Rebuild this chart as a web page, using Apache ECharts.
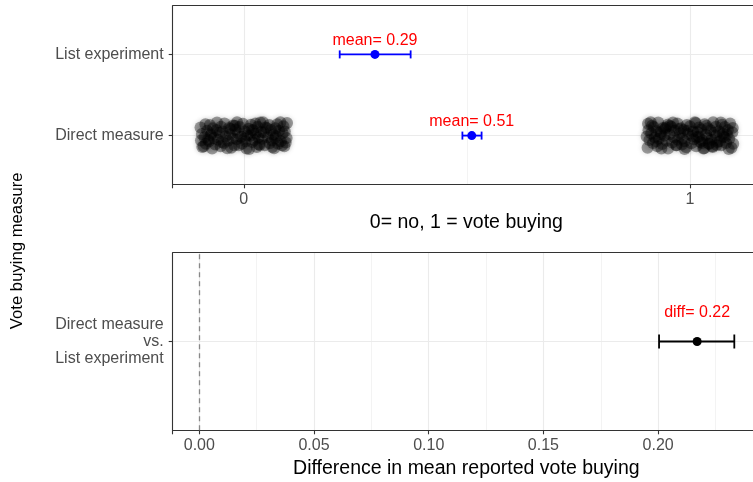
<!DOCTYPE html>
<html><head><meta charset="utf-8">
<script src="https://cdn.jsdelivr.net/npm/echarts@6/dist/echarts.min.js"></script>
<style>html,body{margin:0;padding:0;background:#fff}#c{width:753px;height:482px}</style>
</head><body><div id="c"></div>
<script>
// ---------- data ----------
const measures = ['Direct measure', 'List experiment'];
const meanValues = [0.511, 0.294];
const meanLower = [0.490, 0.215];
const meanUpper = [0.533, 0.374];
const meanLabels = ['mean= 0.51', 'mean= 0.29'];

const diffCategory = 'Direct measure\nvs.\nList experiment';
const diffValue = [0.217];
const diffLower = [0.2004];
const diffUpper = [0.2332];
const diffLabels = ['diff= 0.22'];
const refLineValue = 0;

const topTicks = [0, 1];
const topTickLabels = ['0', '1'];
const bottomTicks = [0, 0.05, 0.10, 0.15, 0.20];
const bottomTickLabels = ['0.00', '0.05', '0.10', '0.15', '0.20'];
const topXLimits = [-0.1593, 1.157];
const bottomXLimits = [-0.0116, 0.2444];

const topTitle = '0= no, 1 = vote buying';
const bottomTitle = 'Difference in mean reported vote buying';
const yTitle = 'Vote buying measure';

// direct-measure answers (0 = no, 1 = yes) with jitter offsets
const responses = [0, 1];
const noJitterX = [
 -0.093,-0.071,-0.052,-0.028,-0.011,0.012,0.029,0.047,0.068,0.091,
 -0.085,-0.064,-0.045,-0.021,-0.004,0.019,0.036,0.058,0.077,0.094,
 -0.096,-0.078,-0.058,-0.035,-0.016,0.004,0.024,0.041,0.063,0.083,
 -0.088,-0.067,-0.041,-0.025,-0.006,0.015,0.033,0.054,0.072,0.096,
 -0.094,-0.074,-0.055,-0.031,-0.013,0.008,0.027,0.045,0.066,0.087,
 -0.082,-0.061,-0.047,-0.019,0.002,0.021,0.039,0.061,0.079,0.092,
 -0.097,-0.069,-0.051,-0.033,-0.009,0.011,0.031,0.049,0.071,0.089,
 -0.086,-0.076,-0.043,-0.024,-0.002,0.016,0.037,0.057,0.075,0.097,
 -0.090,-0.060,-0.037,-0.015,0.006,0.026,0.043,0.064,0.082,-0.030,
 -0.072,-0.050,-0.020,0.001,0.018,0.034,0.052,0.070,0.086,-0.080];
const noJitterY = [
 -0.14,-0.16,-0.13,-0.15,-0.12,-0.165,-0.14,-0.12,-0.155,-0.13,
 -0.10,-0.11,-0.09,-0.12,-0.10,-0.08,-0.115,-0.095,-0.10,-0.085,
 -0.06,-0.07,-0.05,-0.065,-0.045,-0.07,-0.055,-0.04,-0.06,-0.07,
 -0.02,-0.03,-0.01,-0.035,-0.015,0.0,-0.025,-0.02,-0.005,-0.03,
 0.02,0.01,0.035,0.015,0.03,0.005,0.025,0.04,0.01,0.03,
 0.06,0.07,0.05,0.075,0.055,0.065,0.045,0.07,0.06,0.05,
 0.10,0.09,0.11,0.095,0.105,0.085,0.11,0.10,0.09,0.115,
 0.14,0.13,0.15,0.125,0.145,0.135,0.16,0.13,0.14,0.155,
 -0.13,0.16,-0.155,0.165,-0.16,0.15,0.165,-0.14,0.165,0.08,
 0.03,-0.08,0.12,-0.04,0.07,-0.11,0.09,-0.03,-0.12,-0.05];
const yesJitterX = [
 -0.095,-0.073,-0.049,-0.030,-0.008,0.014,0.032,0.051,0.070,0.093,
 -0.083,-0.062,-0.040,-0.018,0.003,0.023,0.042,0.060,0.081,0.097,
 -0.091,-0.070,-0.053,-0.027,-0.012,0.009,0.028,0.048,0.067,0.088,
 -0.097,-0.079,-0.057,-0.036,-0.017,0.005,0.020,0.039,0.059,0.078,
 -0.087,-0.066,-0.046,-0.022,-0.004,0.017,0.036,0.055,0.074,0.095,
 -0.093,-0.075,-0.056,-0.034,-0.014,0.007,0.025,0.046,0.065,0.085,
 -0.081,-0.060,-0.042,-0.020,0.000,0.020,0.040,0.058,0.078,0.096,
 -0.094,-0.071,-0.050,-0.028,-0.007,0.013,0.033,0.052,0.072,0.090,
 -0.088,-0.064,-0.038,-0.012,0.011,0.030,0.050,0.069,0.087,-0.045,
 -0.076,-0.054,-0.031,-0.006,0.015,0.037,0.062,0.083,-0.065,0.044,
 -0.025,0.027,-0.085,0.075];
const yesJitterY = [
 -0.15,-0.13,-0.16,-0.12,-0.145,-0.13,-0.155,-0.14,-0.12,-0.15,
 -0.09,-0.105,-0.085,-0.11,-0.095,-0.08,-0.10,-0.115,-0.09,-0.10,
 -0.055,-0.04,-0.065,-0.05,-0.07,-0.045,-0.06,-0.05,-0.07,-0.04,
 -0.01,-0.025,0.0,-0.02,-0.035,-0.005,-0.015,-0.03,0.005,-0.02,
 0.025,0.04,0.015,0.03,0.02,0.045,0.01,0.035,0.025,0.04,
 0.065,0.055,0.08,0.06,0.07,0.05,0.075,0.065,0.055,0.07,
 0.105,0.095,0.11,0.09,0.115,0.10,0.09,0.11,0.105,0.095,
 0.145,0.16,0.135,0.15,0.13,0.155,0.14,0.165,0.135,0.15,
 0.165,-0.16,0.16,-0.165,0.165,-0.16,-0.13,0.16,-0.165,0.12,
 -0.07,0.10,-0.12,0.06,-0.02,0.12,-0.08,0.01,0.02,-0.10,
 0.08,-0.09,0.12,-0.01];

// ---------- build ----------
const FONT = '"Liberation Sans", Arial, sans-serif';
const topSlots = Array.from({length: 12}, (_, i) => '_' + i);
topSlots[3] = measures[0];
topSlots[8] = measures[1];
const bottomSlots = ['_a', diffCategory, '_b'];
const slotInterval = (slots) => (i) => slots[i].charAt(0) !== '_';

function xFormatter(ticks, labels) {
  return function (v) {
    for (let i = 0; i < ticks.length; i++) if (Math.abs(v - ticks[i]) < 1e-6) return labels[i];
    return '';
  };
}
const gridLine = {color: '#ebebeb', width: 1.1};
const minorLine = {color: '#ebebeb', width: 0.6};
const frame = {color: '#333333', width: 1.1};

function mainX(gridIndex, limits, split, ticks, labels, title) {
  return {
    type: 'value', gridIndex, min: limits[0], max: limits[1], splitNumber: split,
    position: 'bottom',
    axisLine: {show: true, onZero: false, lineStyle: frame},
    axisTick: {show: true, length: 4, lineStyle: frame},
    axisLabel: {margin: 7, fontSize: 16, color: '#4d4d4d', fontFamily: FONT,
                formatter: xFormatter(ticks, labels)},
    splitLine: {show: true, lineStyle: gridLine},
    minorTick: {show: false, splitNumber: 2},
    minorSplitLine: {show: true, lineStyle: minorLine},
    name: title, nameLocation: 'middle', nameGap: 28,
    nameTextStyle: {fontSize: 19.5, color: '#000', fontFamily: FONT}
  };
}
function frameX(gridIndex, limits) {
  return {
    type: 'value', gridIndex, min: limits[0], max: limits[1], position: 'top',
    axisLine: {show: true, onZero: false, lineStyle: frame},
    axisTick: {show: false}, axisLabel: {show: false}, splitLine: {show: false}
  };
}
function labelY(gridIndex, slots) {
  return {
    type: 'category', gridIndex, data: slots, boundaryGap: false, position: 'left',
    axisLine: {show: true, onZero: false, lineStyle: frame},
    axisTick: {show: true, length: 4, interval: slotInterval(slots), lineStyle: frame},
    axisLabel: {margin: 9, fontSize: 16, color: '#4d4d4d', fontFamily: FONT, lineHeight: 17,
                interval: slotInterval(slots),
                formatter: v => v.charAt(0) === '_' ? '' : v},
    splitLine: {show: true, interval: slotInterval(slots), lineStyle: gridLine}
  };
}
function errorBar(capHalf, color, width) {
  return function (params, api) {
    const y = api.value(2);
    const a = api.coord([api.value(0), y]);
    const b = api.coord([api.value(1), y]);
    const style = {stroke: color, lineWidth: width};
    return {type: 'group', children: [
      {type: 'line', shape: {x1: a[0], y1: a[1], x2: b[0], y2: b[1]}, style},
      {type: 'line', shape: {x1: a[0], y1: a[1] - capHalf, x2: a[0], y2: a[1] + capHalf}, style},
      {type: 'line', shape: {x1: b[0], y1: b[1] - capHalf, x2: b[0], y2: b[1] + capHalf}, style}
    ]};
  };
}

const noPts = noJitterX.map((dx, i) => [responses[0] + dx, 1 + noJitterY[i]]);
const yesPts = yesJitterX.map((dx, i) => [responses[1] + dx, 1 + yesJitterY[i]]);
const cloudStyle = {color: 'rgba(0,0,0,0.36)', opacity: 1,
                    shadowBlur: 5, shadowColor: 'rgba(0,0,0,0.4)'};

const chart = echarts.init(document.getElementById('c'), null, {renderer: 'canvas'});
chart.setOption({
  animation: false,
  backgroundColor: '#fff',
  textStyle: {fontFamily: FONT},
  grid: [
    {left: 172.7, top: 5.7, width: 587.3, height: 178.6, containLabel: false, outerBoundsMode: 'none'},
    {left: 172.7, top: 252.7, width: 587.3, height: 177.6, containLabel: false, outerBoundsMode: 'none'}
  ],
  xAxis: [
    mainX(0, topXLimits, 1, topTicks, topTickLabels, topTitle),
    frameX(0, topXLimits),
    mainX(1, bottomXLimits, 5, bottomTicks, bottomTickLabels, bottomTitle),
    frameX(1, bottomXLimits)
  ],
  yAxis: [
    {type: 'value', gridIndex: 0, min: 0.4, max: 2.6, show: false, position: 'right'},
    labelY(0, topSlots),
    {type: 'value', gridIndex: 1, min: 0.4, max: 1.6, show: false, position: 'right'},
    labelY(1, bottomSlots)
  ],
  graphic: [{
    type: 'text', x: 17.5, y: 250.8, rotation: Math.PI / 2, silent: true,
    style: {text: yTitle, fontSize: 16.7, fontFamily: FONT, fill: '#000',
            align: 'center', verticalAlign: 'middle'}
  }],
  series: [
    {type: 'scatter', xAxisIndex: 0, yAxisIndex: 0, data: noPts, symbolSize: 12,
     itemStyle: cloudStyle, silent: true},
    {type: 'scatter', xAxisIndex: 0, yAxisIndex: 0, data: yesPts, symbolSize: 12,
     itemStyle: cloudStyle, silent: true},
    {type: 'custom', xAxisIndex: 0, yAxisIndex: 0, silent: true,
     data: measures.map((m, i) => [meanLower[i], meanUpper[i], i + 1]),
     encode: {x: [0, 1], y: 2}, renderItem: errorBar(4, '#0000ff', 1.8)},
    {type: 'scatter', xAxisIndex: 0, yAxisIndex: 0, silent: true, symbolSize: 9,
     data: measures.map((m, i) => [meanValues[i], i + 1]),
     itemStyle: {color: '#0000ff', opacity: 1},
     label: {show: true, position: 'top', distance: 1.6, color: '#ff0000', fontSize: 16,
             fontFamily: FONT, formatter: p => meanLabels[p.dataIndex]}},
    {type: 'custom', xAxisIndex: 2, yAxisIndex: 2, silent: true,
     data: diffValue.map((v, i) => [diffLower[i], diffUpper[i], 1]),
     encode: {x: [0, 1], y: 2}, renderItem: errorBar(7, '#000000', 1.8),
     markLine: {silent: true, symbol: ['none', 'none'], label: {show: false},
                lineStyle: {type: [5, 4], color: '#888888', width: 1.3},
                data: [{xAxis: refLineValue}]}},
    {type: 'scatter', xAxisIndex: 2, yAxisIndex: 2, silent: true, symbolSize: 9,
     data: diffValue.map(v => [v, 1]),
     itemStyle: {color: '#000000', opacity: 1},
     label: {show: true, position: 'top', distance: 16.4, color: '#ff0000', fontSize: 16,
             fontFamily: FONT, formatter: p => diffLabels[p.dataIndex]}}
  ]
});
</script>
</body></html>
